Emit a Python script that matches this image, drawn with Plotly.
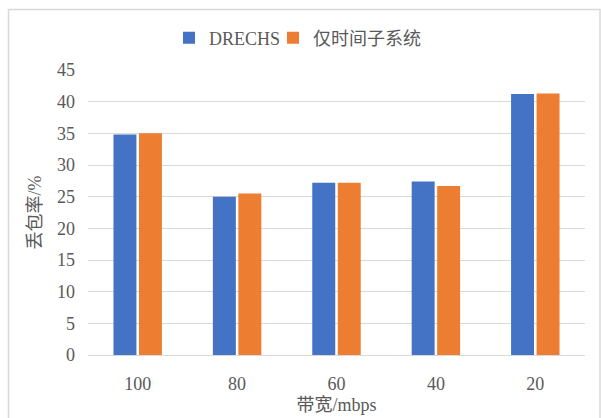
import plotly.graph_objects as go

# Bandwidth categories (mbps) and packet loss rate (%) per scheme
bandwidth = ["100", "80", "60", "40", "20"]
drechs_loss = [34.8, 25.0, 27.2, 27.4, 41.2]
time_only_loss = [35.0, 25.5, 27.2, 26.7, 41.3]
y_ticks = [0, 5, 10, 15, 20, 25, 30, 35, 40, 45]

BLUE = "#4472C4"
ORANGE = "#ED7D31"
TEXT = "#595959"
GRID = "#D9D9D9"
FONT = "Liberation Serif, Noto Sans CJK SC, serif"
tick_font = dict(family=FONT, size=18, color=TEXT)

fig = go.Figure()
fig.add_trace(go.Bar(name="DRECHS", x=bandwidth, y=drechs_loss, legend="legend",
                     marker=dict(color=BLUE, line=dict(width=0))))
fig.add_trace(go.Bar(name="仅时间子系统", x=bandwidth, y=time_only_loss, legend="legend2",
                     marker=dict(color=ORANGE, line=dict(width=0))))

L, R, T, B = 88, 16, 70, 63
W, H = 601, 418
pw, ph = W - L - R, H - T - B


def px_x(p):
    return (p - L) / pw


def px_y(p):
    return (H - B - p) / ph


legend_style = dict(orientation="h", xanchor="left", y=px_y(38), yanchor="middle",
                    font=dict(family=FONT, size=18, color=TEXT), itemwidth=30,
                    bgcolor="rgba(0,0,0,0)")

fig.update_layout(
    width=W, height=H,
    margin=dict(l=L, r=R, t=T, b=B, pad=0, autoexpand=False),
    paper_bgcolor="white", plot_bgcolor="white",
    font=dict(family=FONT, size=18, color=TEXT),
    barmode="group", bargap=0.487, bargroupgap=0.1,
    showlegend=True,
    legend=dict(x=px_x(169), **legend_style),
    legend2=dict(x=px_x(273), **legend_style),
    xaxis=dict(
        automargin=False,
        showgrid=False, showline=True, linecolor=GRID, linewidth=1,
        ticks="", ticklabelstandoff=12, tickfont=tick_font,
        title=dict(text="带宽/mbps", font=dict(family=FONT, size=18, color=TEXT),
                   standoff=5),
    ),
    yaxis=dict(
        automargin=False,
        range=[0, 45], tickvals=y_ticks, showgrid=True, gridcolor=GRID,
        gridwidth=1, zeroline=False, showline=False, ticks="",
        ticklabelstandoff=12, tickfont=tick_font,
        title=dict(text="丢包率/%", font=dict(family=FONT, size=18, color=TEXT),
                   standoff=10),
    ),
    shapes=[dict(type="rect", xref="paper", yref="paper",
                 x0=px_x(8.5), x1=px_x(600), y0=px_y(440), y1=px_y(9.5),
                 line=dict(color=GRID, width=1.5), fillcolor="rgba(0,0,0,0)",
                 layer="below")],
)

fig.write_html("out.html")
